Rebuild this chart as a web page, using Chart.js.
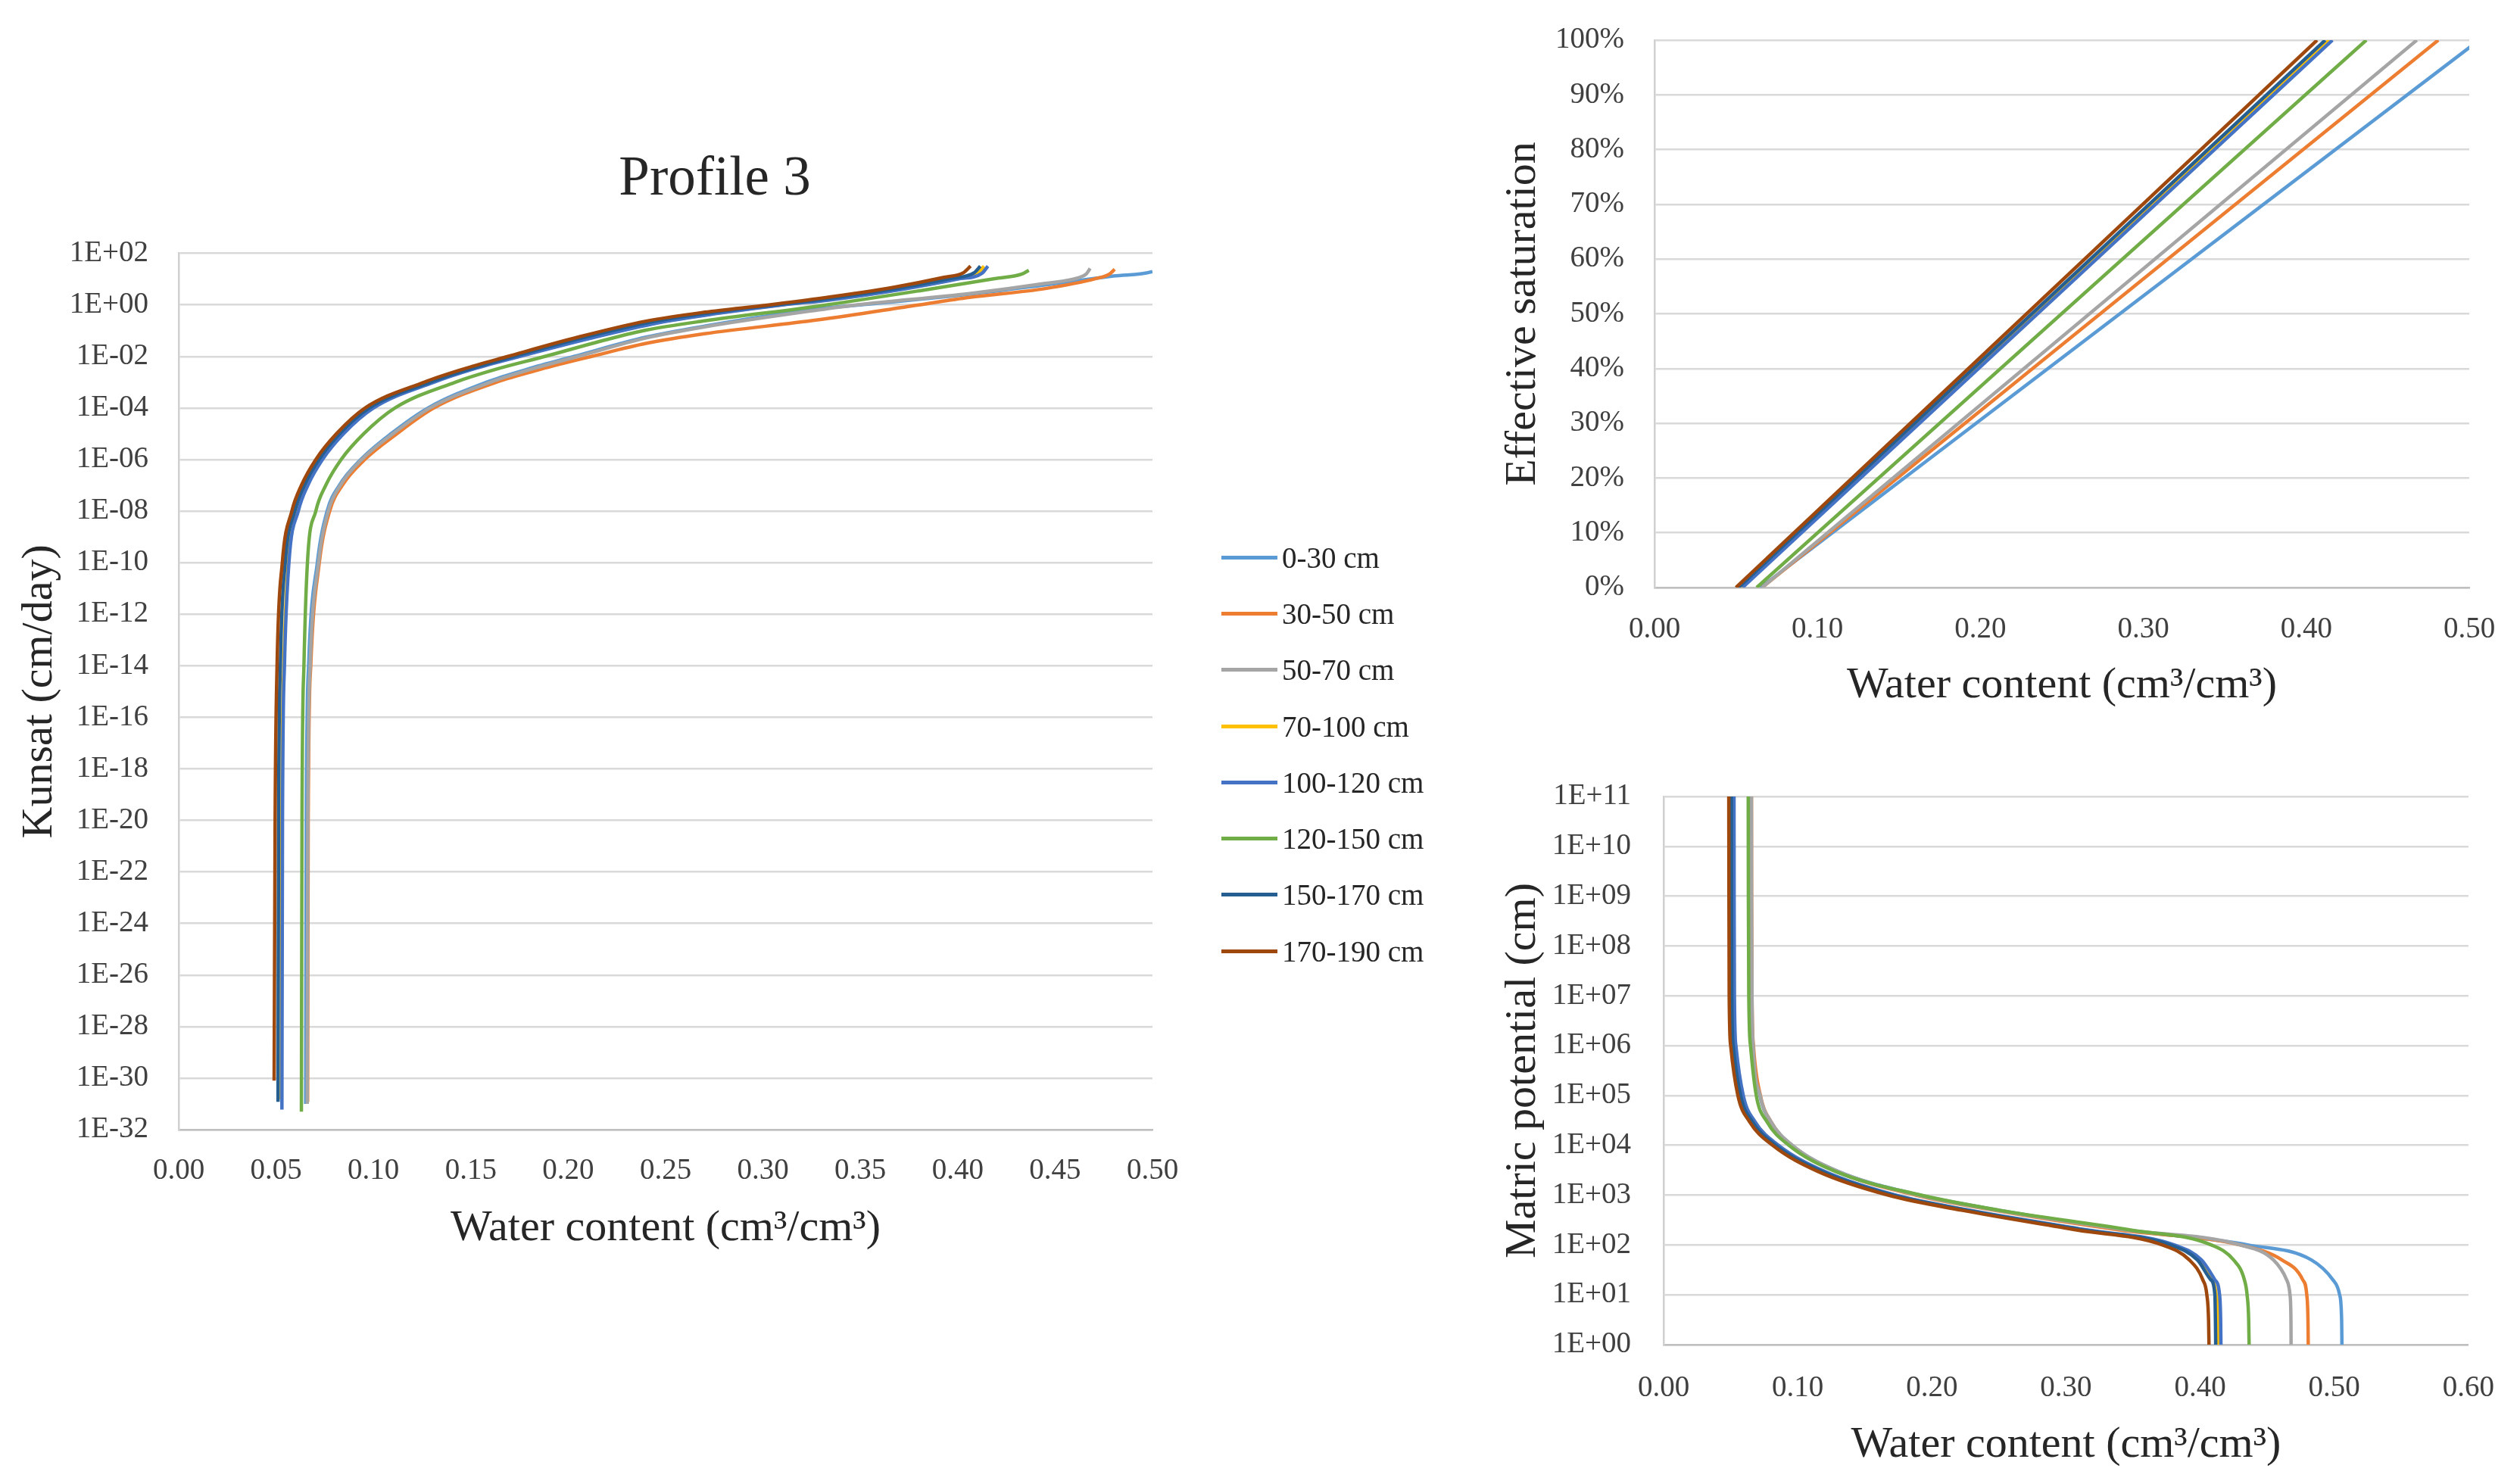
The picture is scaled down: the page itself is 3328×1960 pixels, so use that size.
<!DOCTYPE html>
<html lang="en">
<head>
    <meta charset="UTF-8">
    <title>Profile 3</title>
    <style>
        body { margin: 0; background: #fff; width: 3328px; height: 1960px; position: relative; overflow: hidden; }
        canvas { position: absolute; }
        .legend { position: absolute; left: 1613px; top: 699px; font-family: "Liberation Serif", serif; font-size: 39px; color: #262626; }
        .legend-row { height: 74.3px; display: flex; align-items: center; }
        .legend-line { width: 74px; height: 5px; margin-right: 6px; }
    </style>
</head>
<body>
    <canvas id="kunsat" width="1888" height="1700" style="left:0;top:0"></canvas>
    <canvas id="saturation" width="1378" height="980" style="left:1950px;top:-20px"></canvas>
    <canvas id="matric" width="1378" height="980" style="left:1950px;top:980px"></canvas>
    <div class="legend" id="legend"></div>

    <script src="https://cdn.jsdelivr.net/npm/chart.js@4/dist/chart.umd.min.js"></script>
    <script>
        // layers of profile 3
        const layers = ['0-30 cm', '30-50 cm', '50-70 cm', '70-100 cm', '100-120 cm', '120-150 cm', '150-170 cm', '170-190 cm'];
        const colors = ['#5B9BD5', '#ED7D31', '#A5A5A5', '#FFC000', '#4472C4', '#70AD47', '#255E91', '#9E480E'];

        // tick labels
        const kTicks = [1e-32, 1e-30, 1e-28, 1e-26, 1e-24, 1e-22, 1e-20, 1e-18, 1e-16, 1e-14, 1e-12, 1e-10, 1e-8, 1e-6, 1e-4, 1e-2, 1, 1e2];
        const kThetaTicks = [0, 0.05, 0.10, 0.15, 0.20, 0.25, 0.30, 0.35, 0.40, 0.45, 0.50];
        const seTicks = [0, 10, 20, 30, 40, 50, 60, 70, 80, 90, 100];
        const seThetaTicks = [0, 0.10, 0.20, 0.30, 0.40, 0.50];
        const hTicks = [1, 1e1, 1e2, 1e3, 1e4, 1e5, 1e6, 1e7, 1e8, 1e9, 1e10, 1e11];
        const hThetaTicks = [0, 0.10, 0.20, 0.30, 0.40, 0.50, 0.60];

        // Kunsat (cm/day) vs water content, [theta, K] per layer
        const kunsat0_30 = [[.0652,1e-31],[.0655,1e-20],[.0667,1e-14],[.0712,1e-10],[.0762,1e-8],[.0825,1e-7],[.0935,1e-6],[.109,1e-5],[.128,1e-4],[.158,1e-3],[.179,3.2e-3],[.203,1e-2],[.240,0.056],[.270,0.15],[.328,0.71],[.350,1],[.406,2.6],[.445,6],[.480,13.2],[.500,19.5],[.503,25],[.5057,40]];
        const kunsat30_50 = [[.0662,1.2e-31],[.0665,1e-20],[.0678,1e-14],[.0722,1e-10],[.0775,1e-8],[.0840,1e-7],[.0955,1e-6],[.112,1e-5],[.131,1e-4],[.163,1e-3],[.186,3.2e-3],[.212,1e-2],[.240,0.032],[.270,0.076],[.328,0.26],[.380,1],[.406,1.95],[.445,4.3],[.471,10.5],[.478,15.8],[.4806,24]];
        const kunsat50_70 = [[.0660,1e-31],[.0663,1e-20],[.0675,1e-14],[.0718,1e-10],[.0768,1e-8],[.0830,1e-7],[.0940,1e-6],[.110,1e-5],[.129,1e-4],[.160,1e-3],[.181,3.2e-3],[.205,1e-2],[.240,0.052],[.270,0.14],[.328,0.63],[.348,1],[.406,2.75],[.445,6.8],[.462,11.2],[.466,15.8],[.468,26]];
        const kunsat70_100 = [[.0527,1.5e-31],[.0530,1e-20],[.0540,1e-14],[.0563,1e-10],[.0611,1e-8],[.0660,1e-7],[.0734,1e-6],[.0842,1e-5],[.0995,1e-4],[.130,1e-3],[.150,3.2e-3],[.174,1e-2],[.210,0.05],[.245,0.2],[.276,0.47],[.309,1],[.334,1.58],[.372,4.2],[.399,10],[.4105,17],[.4135,32]];
        const kunsat100_120 = [[.0530,6e-32],[.0533,1e-20],[.0543,1e-14],[.0566,1e-10],[.0614,1e-8],[.0663,1e-7],[.0738,1e-6],[.0846,1e-5],[.1000,1e-4],[.131,1e-3],[.151,3.2e-3],[.175,1e-2],[.211,0.05],[.246,0.2],[.277,0.47],[.310,1],[.335,1.58],[.373,4.2],[.400,10],[.4125,17],[.4155,32]];
        const kunsat120_150 = [[.0630,5e-32],[.0633,1e-20],[.0643,1e-14],[.0661,1e-10],[.0704,1e-8],[.0755,1e-7],[.0834,1e-6],[.0950,1e-5],[.111,1e-4],[.142,1e-3],[.163,3.2e-3],[.188,1e-2],[.222,0.05],[.240,0.105],[.270,0.24],[.328,0.89],[.380,3.5],[.419,10.5],[.433,15.8],[.4365,22]];
        const kunsat150_170 = [[.0510,1.2e-31],[.0513,1e-20],[.0522,1e-14],[.0547,1e-10],[.0596,1e-8],[.0645,1e-7],[.0720,1e-6],[.0826,1e-5],[.0978,1e-4],[.129,1e-3],[.149,3.2e-3],[.172,1e-2],[.208,0.054],[.243,0.22],[.273,0.5],[.306,1],[.331,1.66],[.370,4.5],[.397,10.7],[.4085,17.8],[.4116,32]];
        const kunsat170_190 = [[.0490,8e-31],[.0495,1e-20],[.0505,1e-14],[.0532,1e-10],[.0581,1e-8],[.0630,1e-7],[.0704,1e-6],[.0810,1e-5],[.0957,1e-4],[.126,1e-3],[.146,3.2e-3],[.169,1e-2],[.205,0.056],[.240,0.234],[.270,0.52],[.303,1],[.328,1.74],[.367,4.8],[.393,11.7],[.403,17.8],[.4066,32]];

        // effective saturation (%) vs water content, [theta, Se] per layer
        const se0_30 = [[.065,0],[.506,100]];
        const se30_50 = [[.066,0],[.481,100]];
        const se50_70 = [[.066,0],[.4678,100]];
        const se70_100 = [[.0535,0],[.414,100]];
        const se100_120 = [[.054,0],[.416,100]];
        const se120_150 = [[.0627,0],[.4368,100]];
        const se150_170 = [[.0515,0],[.4116,100]];
        const se170_190 = [[.050,0],[.4066,100]];

        // matric potential (cm) levels and water content of each layer at those levels
        const suction = [1e11, 1e9, 1e7, 1e6, 1e5, 3e4, 1e4, 3e3, 1e3, 5e2, 2e2, 1e2, 5e1, 2e1, 1e1, 3, 1];
        const theta0_30 = [.0650,.0651,.0654,.0665,.0718,.0798,.0958,.130,.191,.250,.345,.436,.483,.499,.504,.5055,.5057];
        const theta30_50 = [.0655,.0656,.0659,.0670,.0722,.0800,.0955,.129,.188,.246,.340,.430,.461,.4765,.4795,.4804,.4806];
        const theta50_70 = [.0655,.0656,.0659,.0668,.0720,.0800,.0960,.130,.190,.248,.345,.430,.4547,.4645,.467,.4677,.4678];
        const theta70_100 = [.0522,.0523,.0525,.0536,.0591,.0678,.0853,.119,.172,.227,.314,.379,.399,.409,.412,.4133,.4135];
        const theta100_120 = [.0525,.0526,.0528,.0539,.0594,.0681,.0857,.120,.173,.228,.316,.381,.401,.411,.4145,.4153,.4155];
        const theta120_150 = [.0631,.0632,.0635,.0648,.0691,.0770,.0935,.128,.192,.250,.348,.4085,.425,.433,.435,.4362,.4365];
        const theta150_170 = [.0505,.0506,.0508,.0519,.0574,.0661,.0836,.118,.171,.226,.313,.378,.398,.408,.411,.4114,.4116];
        const theta170_190 = [.0486,.0487,.0489,.0500,.0554,.0640,.0814,.115,.1675,.222,.308,.372,.392,.402,.405,.4063,.4066];

        const kunsatSets = [kunsat0_30, kunsat30_50, kunsat50_70, kunsat70_100, kunsat100_120, kunsat120_150, kunsat150_170, kunsat170_190];
        const seSets = [se0_30, se30_50, se50_70, se70_100, se100_120, se120_150, se150_170, se170_190];
        const thetaSets = [theta0_30, theta30_50, theta50_70, theta70_100, theta100_120, theta120_150, theta150_170, theta170_190];

        const FONT = '"Liberation Serif", "DejaVu Serif", serif';
        const GRID = '#d9d9d9';
        const TICK_COLOR = '#404040';
        const TITLE_COLOR = '#262626';

        function sci(v) {
            const e = Math.round(Math.log10(v));
            return '1E' + (e < 0 ? '-' : '+') + String(Math.abs(e)).padStart(2, '0');
        }

        function makeDatasets(sets, toPoints, smooth) {
            return sets.map((set, i) => ({
                label: layers[i],
                data: toPoints(set, i),
                borderColor: colors[i],
                backgroundColor: colors[i],
                borderWidth: 4.5,
                pointRadius: 0,
                showLine: true,
                fill: false,
                cubicInterpolationMode: smooth ? 'monotone' : 'default',
                tension: 0,
                order: -i
            }));
        }

        function xAxis(ticks, max, height, titlePad, tickPad) {
            return {
                type: 'linear', min: 0, max: max,
                afterBuildTicks: s => { s.ticks = ticks.map(v => ({ value: v })); },
                afterFit: s => { s.height = height; },
                grid: { display: false, drawTicks: false },
                border: { display: true, color: '#bfbfbf', width: 2.5 },
                ticks: { color: TICK_COLOR, font: { family: FONT, size: 39 }, padding: tickPad, maxRotation: 0, callback: v => v.toFixed(2) },
                title: { display: true, text: 'Water content (cm\u00B3/cm\u00B3)', color: TITLE_COLOR, font: { family: FONT, size: 58 }, padding: { top: 0, bottom: titlePad } }
            };
        }

        function yAxis(type, min, max, ticks, fmt, width, title, titlePad, tickPad) {
            return {
                type: type, min: min, max: max,
                afterBuildTicks: s => { s.ticks = ticks.map(v => ({ value: v })); },
                afterFit: s => { s.width = width; },
                grid: { color: GRID, lineWidth: 2.5, drawTicks: false },
                border: { display: true, color: '#d0d0d0', width: 2.5 },
                ticks: { color: TICK_COLOR, font: { family: FONT, size: 39 }, padding: tickPad, autoSkip: false, callback: fmt },
                title: { display: true, text: title, color: TITLE_COLOR, font: { family: FONT, size: 58 }, padding: { top: titlePad, bottom: 0 } }
            };
        }

        const common = {
            responsive: false,
            animation: false,
            devicePixelRatio: 1,
            events: [],
            plugins: { legend: { display: false }, tooltip: { enabled: false } }
        };

        // Kunsat chart; an empty right axis reserves the legend's room so the title centres like the original
        new Chart(document.getElementById('kunsat'), {
            type: 'scatter',
            data: { datasets: makeDatasets(kunsatSets, set => set.map(p => ({ x: p[0], y: p[1] })), true) },
            options: Object.assign({}, common, {
                layout: { padding: { left: 0, right: 0, top: 0, bottom: 38 } },
                plugins: {
                    legend: { display: false }, tooltip: { enabled: false },
                    title: { display: true, text: 'Profile 3', color: TITLE_COLOR, font: { family: FONT, size: 73, weight: 'normal' }, padding: { top: 194, bottom: 53 } }
                },
                scales: {
                    x: xAxis(kThetaTicks, 0.5, 170, 4, 31),
                    y: yAxis('logarithmic', 1e-32, 1e2, kTicks, v => sci(v), 236, 'Kunsat (cm/day)', 18, 40),
                    legendSpace: {
                        position: 'right', type: 'linear',
                        afterFit: s => { s.width = 366; },
                        grid: { display: false, drawTicks: false },
                        border: { display: false },
                        ticks: { display: false }
                    }
                }
            })
        });

        // effective saturation chart
        new Chart(document.getElementById('saturation'), {
            type: 'scatter',
            data: { datasets: makeDatasets(seSets, set => set.map(p => ({ x: p[0], y: p[1] })), false) },
            options: Object.assign({}, common, {
                layout: { padding: { left: 0, right: 67, top: 73, bottom: 14 } },
                scales: {
                    x: xAxis(seThetaTicks, 0.5, 170, 5, 32),
                    y: yAxis('linear', 0, 100, seTicks, v => v + '%', 235, 'Effective saturation', 27, 40)
                }
            })
        });

        // matric potential chart
        new Chart(document.getElementById('matric'), {
            type: 'scatter',
            data: { datasets: makeDatasets(thetaSets, (set) => set.map((t, j) => ({ x: t, y: suction[j] })), true) },
            options: Object.assign({}, common, {
                layout: { padding: { left: 0, right: 66, top: 72, bottom: 14 } },
                scales: {
                    x: xAxis(hThetaTicks, 0.6, 170, 2, 34),
                    y: yAxis('logarithmic', 1, 1e11, hTicks, v => sci(v), 247, 'Matric potential (cm)', 27, 43)
                }
            })
        });

        // shared legend
        const legend = document.getElementById('legend');
        layers.forEach((name, i) => {
            const row = document.createElement('div');
            row.className = 'legend-row';
            const line = document.createElement('span');
            line.className = 'legend-line';
            line.style.background = colors[i];
            const text = document.createElement('span');
            text.textContent = name;
            row.appendChild(line);
            row.appendChild(text);
            legend.appendChild(row);
        });
    </script>
</body>
</html>
